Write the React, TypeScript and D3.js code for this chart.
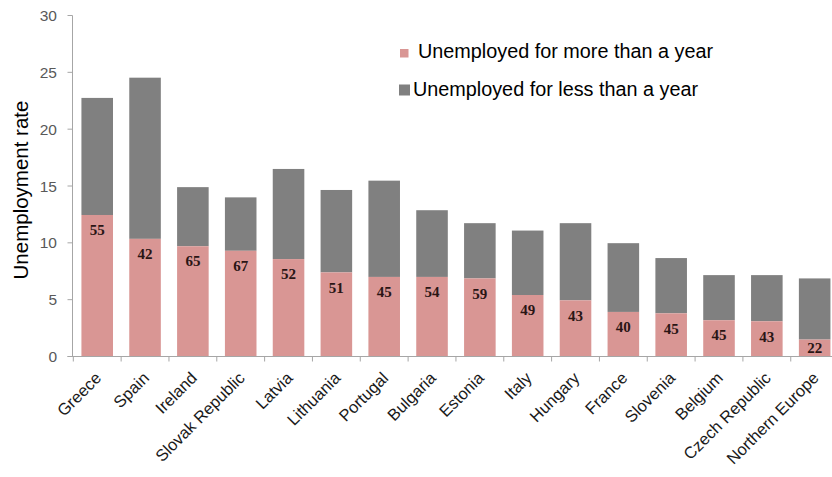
import React from "react";
import * as d3 from "d3";

const categories = ["Greece","Spain","Ireland","Slovak Republic","Latvia","Lithuania","Portugal","Bulgaria","Estonia","Italy","Hungary","France","Slovenia","Belgium","Czech Republic","Northern Europe"];
const moreThanYear = [12.45,10.35,9.7,9.3,8.57,7.4,7.0,7.0,6.87,5.41,4.94,3.92,3.8,3.19,3.1,1.49];
const totalRate = [22.75,24.53,14.9,14.0,16.5,14.65,15.47,12.87,11.73,11.08,11.73,9.97,8.66,7.16,7.16,6.87];
const shareLabels = [55,42,65,67,52,51,45,54,59,49,43,40,45,45,43,22];
const yTicks = [0,5,10,15,20,25,30];
const legendLabels = ["Unemployed for more than a year","Unemployed for less than a year"];

const W = 832, H = 477;
const PINK = "#d99694", GRAY = "#808080";

export default function App() {
  const x = d3.scaleBand<string>().domain(categories).range([73.3, 73.3 + 16 * 47.83]).paddingInner(0.34).paddingOuter(0.17);
  const y = d3.scaleLinear().domain([0, 30]).range([356.5, 15.5]);
  const bw = x.bandwidth();
  const axX = 72.5;
  return (
    <svg width={W} height={H} style={{ position: "absolute", left: 0, top: 0, background: "#fff" }} fontFamily="'Liberation Sans', Arial, sans-serif">
      {/* bars */}
      {categories.map((c, i) => {
        const x0 = x(c)!;
        return (
          <g key={c}>
            <rect x={x0} width={bw} y={y(totalRate[i])} height={y(moreThanYear[i]) - y(totalRate[i])} fill={GRAY} />
            <rect x={x0} width={bw} y={y(moreThanYear[i])} height={y(0) - y(moreThanYear[i])} fill={PINK} />
          </g>
        );
      })}
      {/* data labels */}
      {categories.map((c, i) => {
        const top = y(moreThanYear[i]);
        const cy = Math.min(top + 15, (top + y(0)) / 2);
        return (
          <text key={c} x={x(c)! + bw / 2} y={cy} dy="0.35em" textAnchor="middle" fontFamily="'Liberation Serif', 'Times New Roman', serif" fontWeight="bold" fontSize={15} fill="#2a1515">
            {shareLabels[i]}
          </text>
        );
      })}
      {/* y axis */}
      <line x1={axX} x2={axX} y1={y(30)} y2={y(0)} stroke="#a6a6a6" strokeWidth={1} />
      {yTicks.map(t => (
        <g key={t}>
          <line x1={axX - 5} x2={axX} y1={y(t)} y2={y(t)} stroke="#a6a6a6" />
          <text x={57} y={y(t)} dy="0.36em" textAnchor="end" fontSize={15.5} fill="#595959">{t}</text>
        </g>
      ))}
      {/* x axis */}
      <line x1={axX - 5} x2={W} y1={y(0)} y2={y(0)} stroke="#a6a6a6" />
      {categories.map(c => (
        <line key={c} x1={x(c)! - (x.step() - bw) / 2} x2={x(c)! - (x.step() - bw) / 2} y1={y(0)} y2={y(0) + 5} stroke="#a6a6a6" />
      ))}
      {categories.map(c => {
        const cx = x(c)! + bw / 2 + 1;
        const cy = 375;
        return (
          <text key={c} transform={`translate(${cx},${cy}) rotate(-45)`} textAnchor="end" dy="0.35em" fontSize={16.5} fill="#1a1a1a">{c}</text>
        );
      })}
      {/* y title */}
      <text transform={`translate(28,190) rotate(-90)`} textAnchor="middle" fontSize={20.5} fill="#000">Unemployment rate</text>
      {/* legend */}
      <rect x={400} y={49} width={8.5} height={8.5} fill={PINK} />
      <text x={418} y={58} fontSize={19.5} fill="#000" textLength={295} lengthAdjust="spacingAndGlyphs">{legendLabels[0]}</text>
      <rect x={399} y={84.5} width={11} height={11} fill={GRAY} />
      <text x={413} y={95.5} fontSize={19.5} fill="#000" textLength={285} lengthAdjust="spacingAndGlyphs">{legendLabels[1]}</text>
    </svg>
  );
}
